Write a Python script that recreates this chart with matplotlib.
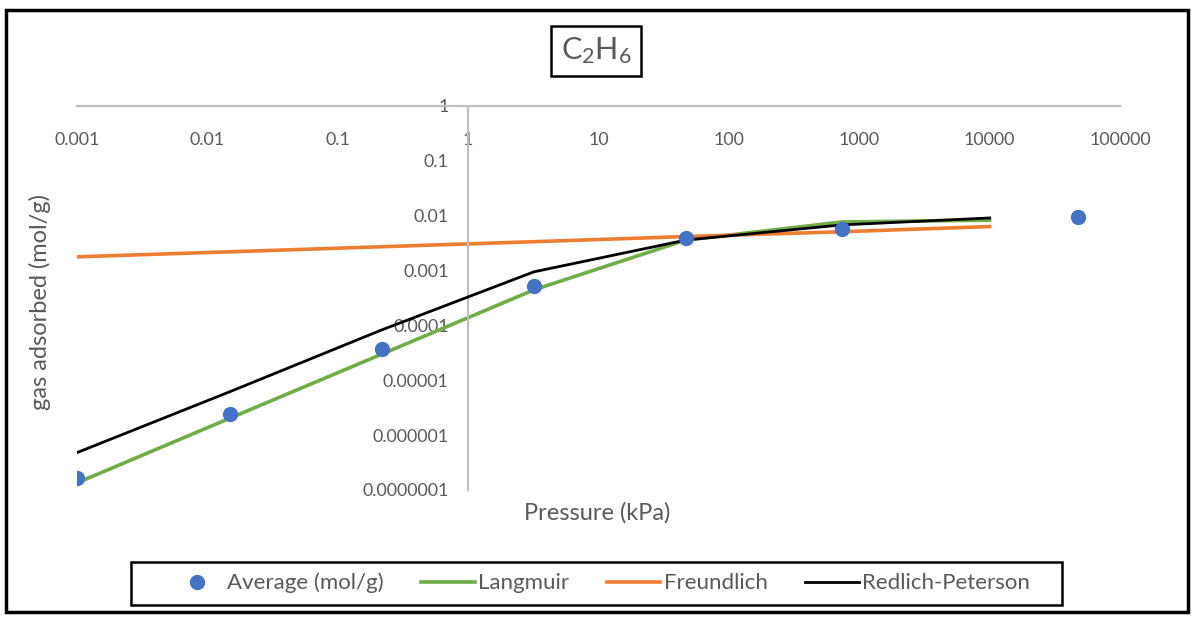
import matplotlib.pyplot as plt
from matplotlib.ticker import FixedLocator, FixedFormatter
from matplotlib.patches import Rectangle

plt.rcParams['font.family'] = ['Lato', 'DejaVu Sans']
plt.rcParams['mathtext.default'] = 'regular'

# measured uptake (mol/g) against pressure (kPa)
pressure = [0.001, 0.0149, 0.218, 3.2, 46.8, 735, 47400]
average = [1.67e-7, 2.45e-6, 3.7e-5, 5.3e-4, 3.97e-3, 5.75e-3, 0.0095]

# isotherm model fits
model_pressure = [0.001, 0.0149, 0.218, 3.2, 46.8, 735, 10000]
langmuir = [1.35e-7, 2.04e-6, 3.0e-5, 4.46e-4, 3.6e-3, 7.7e-3, 8.3e-3]
freundlich = [1.78e-3, 2.2e-3, 2.72e-3, 3.36e-3, 4.17e-3, 5.1e-3, 6.35e-3]
redlich_peterson = [4.8e-7, 6.2e-6, 8.3e-5, 9.5e-4, 3.6e-3, 6.8e-3, 9.1e-3]

x_ticks = [0.001, 0.01, 0.1, 1, 10, 100, 1000, 10000, 100000]
x_labels = ['0.001', '0.01', '0.1', '1', '10', '100', '1000', '10000', '100000']
y_ticks = [1, 0.1, 0.01, 0.001, 0.0001, 0.00001, 0.000001, 0.0000001]
y_labels = ['1', '0.1', '0.01', '0.001', '0.0001', '0.00001', '0.000001', '0.0000001']

grey = '#595959'
axis_grey = '#BFBFBF'

W, H = 1192, 619
fig = plt.figure(figsize=(W / 100, H / 100), dpi=100)
ax = fig.add_axes([77 / W, (H - 490) / H, (1120 - 77) / W, 384 / H])

ax.plot(model_pressure, langmuir, color='#70AD47', lw=2.6, label='Langmuir', zorder=2)
ax.plot(model_pressure, freundlich, color='#ED7D31', lw=2.6, label='Freundlich', zorder=2)
ax.plot(model_pressure, redlich_peterson, color='black', lw=2.0, label='Redlich-Peterson', zorder=3)
ax.plot(pressure, average, 'o', color='#4472C4', ms=10, label='Average (mol/g)', zorder=4)

ax.set_xscale('log')
ax.set_yscale('log')
ax.set_xlim(0.001, 100000)
ax.set_ylim(1e-7, 1)

# axes cross at (1, 1) like the spreadsheet chart
for s in ['top', 'right']:
    ax.spines[s].set_visible(False)
ax.spines['left'].set_position(('data', 1))
ax.spines['bottom'].set_position(('data', 1))
for s in ['left', 'bottom']:
    ax.spines[s].set_color(axis_grey)
    ax.spines[s].set_linewidth(1.6)

ax.xaxis.set_major_locator(FixedLocator(x_ticks))
ax.xaxis.set_major_formatter(FixedFormatter(x_labels))
ax.yaxis.set_major_locator(FixedLocator(y_ticks))
ax.yaxis.set_major_formatter(FixedFormatter(y_labels))
ax.xaxis.set_minor_locator(FixedLocator([]))
ax.yaxis.set_minor_locator(FixedLocator([]))
ax.tick_params(axis='x', length=0, pad=19, labelsize=12.8, labelcolor=grey)
ax.tick_params(axis='y', length=0, pad=14, labelsize=12.8, labelcolor=grey)
ax.patch.set_alpha(0)

fig.text(597 / W, 1 - 513 / H, 'Pressure (kPa)', ha='center', va='center',
         fontsize=17, color=grey)
fig.text(40 / W, 1 - 302 / H, 'gas adsorbed (mol/g)', ha='center', va='center',
         rotation=90, fontsize=17, color=grey)

fig.text(596 / W, 1 - 51 / H, r'C$_2$H$_6$', ha='center', va='center',
         fontsize=22, color=grey,
         bbox=dict(boxstyle='square,pad=0.32', fc='white', ec='black', lw=1.8))

handles, labels = ax.get_legend_handles_labels()
order = [3, 0, 1, 2]
leg = fig.legend([handles[i] for i in order], [labels[i] for i in order],
                 loc='center', bbox_to_anchor=(600 / W, 1 - 583 / H), ncol=4,
                 fontsize=16, handlelength=2.4, handletextpad=0.15,
                 columnspacing=1.7, frameon=False, borderpad=0)
for t in leg.get_texts():
    t.set_color(grey)

# legend box and outer chart border
fig.patches.append(Rectangle((131 / W, 1 - 605 / H), 931 / W, 43 / H,
                             transform=fig.transFigure, fill=False,
                             ec='black', lw=1.8))
fig.patches.append(Rectangle((6 / W, 1 - 612 / H), 1182 / W, 602 / H,
                             transform=fig.transFigure, fill=False,
                             ec='black', lw=2.5))

fig.savefig('out.png', dpi=100)
